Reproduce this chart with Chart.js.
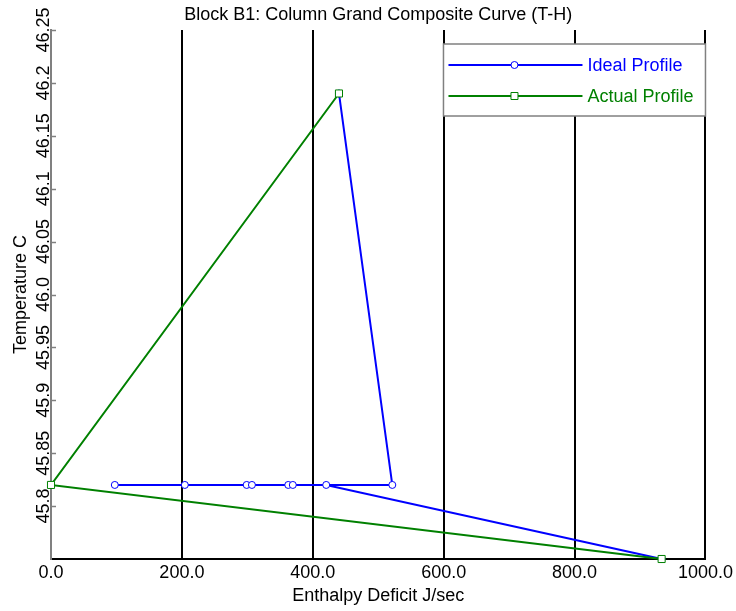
<!DOCTYPE html>
<html>
<head>
<meta charset="utf-8">
<script src="https://cdn.jsdelivr.net/npm/chart.js@4.4.1/dist/chart.umd.min.js"></script>
<style>
  html, body { margin: 0; padding: 0; background: #fff; }
  #wrap { width: 736px; height: 611px; position: relative; }
</style>
</head>
<body>
<div id="wrap"><canvas id="c" width="736" height="611"></canvas></div>
<script>
const FONT = "'Liberation Sans', Arial, Helvetica, sans-serif";

const titleText = 'Block B1: Column Grand Composite Curve (T-H)';
const xAxisTitle = 'Enthalpy Deficit J/sec';
const yAxisTitle = 'Temperature C';
const seriesNames = ['Ideal Profile', 'Actual Profile'];

// Ideal profile: enthalpy deficit (J/sec) and temperature (C), in path order
const idealH = [440, 521.5, 97.5, 204.5, 299, 307, 362.5, 369.5, 420.5, 933];
const idealT = [46.19, 45.82, 45.82, 45.82, 45.82, 45.82, 45.82, 45.82, 45.82, 45.75];

// Actual profile
const actualH = [440, 0, 933];
const actualT = [46.19, 45.82, 45.75];

// Axis ranges and tick values
const xRange = [0, 1000];
const xStep = 200;
const yRange = [45.75, 46.25];
const yTicks = [45.8, 45.85, 45.9, 45.95, 46.0, 46.05, 46.1, 46.15, 46.2, 46.25];

const BLUE = '#0000ff';
const GREEN = '#008000';
const AXIS_GREY = '#808080';

const toPoints = (xs, ys) => xs.map((x, i) => ({ x: x, y: ys[i] }));
const fmtTemp = v => Number.isInteger(Math.round(v * 1000) / 1000) ? v.toFixed(1) : String(Math.round(v * 100) / 100);

// Rotated temperature labels and inward tick marks on the left axis
const yAxisDecor = {
  id: 'yAxisDecor',
  afterDraw(chart) {
    const ctx = chart.ctx;
    const ys = chart.scales.y;
    const left = chart.chartArea.left;
    ctx.save();
    ctx.strokeStyle = AXIS_GREY;
    ctx.lineWidth = 1.5;
    yTicks.forEach(v => {
      const py = Math.round(ys.getPixelForValue(v)) + 0.5;
      ctx.beginPath();
      ctx.moveTo(left - 1, py);
      ctx.lineTo(left + 5, py);
      ctx.stroke();
    });
    ctx.fillStyle = '#000';
    ctx.font = '18px ' + FONT;
    ctx.textAlign = 'center';
    ctx.textBaseline = 'alphabetic';
    yTicks.forEach(v => {
      const py = ys.getPixelForValue(v);
      ctx.save();
      ctx.translate(left - 2, py);
      ctx.rotate(-Math.PI / 2);
      ctx.fillText(fmtTemp(v), 0, 0);
      ctx.restore();
    });
    ctx.restore();
  }
};

// Boxed legend in the upper right of the plot
const boxLegend = {
  id: 'boxLegend',
  afterDraw(chart) {
    const ctx = chart.ctx;
    const area = chart.chartArea;
    const bx = area.right - 262, by = area.top + 14, bw = 262, bh = 72;
    ctx.save();
    ctx.fillStyle = '#fff';
    ctx.fillRect(bx, by, bw, bh);
    ctx.strokeStyle = AXIS_GREY;
    ctx.lineWidth = 1.5;
    ctx.strokeRect(bx, by, bw, bh);
    ctx.font = '18px ' + FONT;
    ctx.textAlign = 'left';
    ctx.textBaseline = 'middle';
    const rows = [
      { name: seriesNames[0], color: BLUE, style: 'circle', y: by + 21 },
      { name: seriesNames[1], color: GREEN, style: 'rect', y: by + 52 }
    ];
    rows.forEach(r => {
      ctx.strokeStyle = r.color;
      ctx.lineWidth = 2;
      ctx.beginPath();
      ctx.moveTo(bx + 5, r.y);
      ctx.lineTo(bx + 139, r.y);
      ctx.stroke();
      ctx.fillStyle = '#fff';
      ctx.lineWidth = 1;
      ctx.beginPath();
      if (r.style === 'circle') {
        ctx.arc(bx + 71, r.y, 3.5, 0, Math.PI * 2);
      } else {
        ctx.rect(bx + 67.5, r.y - 3.5, 7, 7);
      }
      ctx.fill();
      ctx.stroke();
      ctx.fillStyle = r.color;
      ctx.fillText(r.name, bx + 144, r.y + 1);
    });
    ctx.restore();
  }
};

new Chart(document.getElementById('c'), {
  type: 'scatter',
  data: {
    datasets: [
      {
        label: seriesNames[0],
        data: toPoints(idealH, idealT),
        showLine: true,
        borderColor: BLUE,
        borderWidth: 2,
        pointStyle: 'circle',
        pointRadius: 3.5,
        pointBorderWidth: 1,
        pointBorderColor: BLUE,
        pointBackgroundColor: '#fff',
        clip: false,
        order: 1
      },
      {
        label: seriesNames[1],
        data: toPoints(actualH, actualT),
        showLine: true,
        borderColor: GREEN,
        borderWidth: 2,
        pointStyle: 'rect',
        pointRadius: 5,
        pointBorderWidth: 1,
        pointBorderColor: GREEN,
        pointBackgroundColor: '#fff',
        clip: false,
        order: 0
      }
    ]
  },
  options: {
    responsive: false,
    animation: false,
    devicePixelRatio: 1,
    events: [],
    layout: { padding: { left: 0, right: 30, top: 0, bottom: 0 } },
    plugins: {
      legend: { display: false },
      tooltip: { enabled: false },
      title: {
        display: true,
        text: titleText,
        fullSize: false,
        color: '#000',
        font: { family: FONT, size: 18, weight: 'normal' },
        padding: { top: 4, bottom: 4.4 }
      }
    },
    scales: {
      x: {
        type: 'linear',
        position: 'bottom',
        min: xRange[0],
        max: xRange[1],
        ticks: {
          stepSize: xStep,
          color: '#000',
          font: { family: FONT, size: 18 },
          padding: 3,
          maxRotation: 0,
          autoSkip: false,
          callback: v => v.toFixed(1)
        },
        grid: {
          color: ctx => (ctx.tick && ctx.tick.value === 0) ? 'rgba(0,0,0,0)' : '#000',
          lineWidth: 2,
          drawTicks: false
        },
        border: { display: true, color: '#000', width: 2 },
        title: {
          display: true,
          text: xAxisTitle,
          color: '#000',
          font: { family: FONT, size: 18 },
          padding: { top: 0, bottom: 4 }
        },
        afterFit: s => { s.height = 52; }
      },
      y: {
        type: 'linear',
        position: 'left',
        min: yRange[0],
        max: yRange[1],
        ticks: { display: false, stepSize: 0.05 },
        grid: { drawOnChartArea: false, drawTicks: false },
        border: { display: true, color: AXIS_GREY, width: 2 },
        title: {
          display: true,
          text: yAxisTitle,
          color: '#000',
          font: { family: FONT, size: 18 },
          padding: { top: 10, bottom: 0 }
        },
        afterFit: s => { s.width = 51; }
      }
    }
  },
  plugins: [yAxisDecor, boxLegend]
});
</script>
</body>
</html>
